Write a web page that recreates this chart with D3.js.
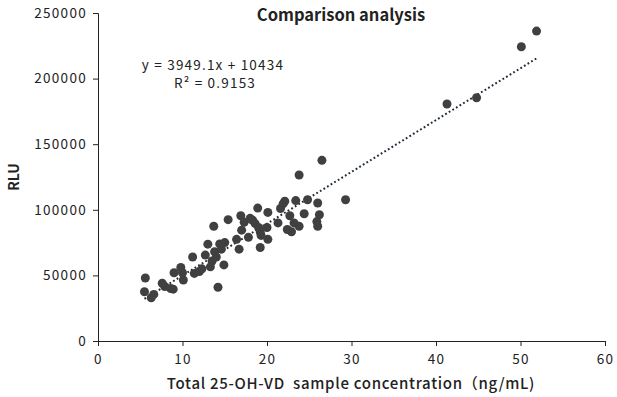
<!DOCTYPE html>
<html><head><meta charset="utf-8">
<script src="https://cdn.jsdelivr.net/npm/d3@7"></script>
<style>
body{margin:0;background:#fff;}
text{font-family:"Noto Sans CJK SC","Noto Sans",sans-serif;fill:#222;}
</style></head>
<body><svg id="c" width="617" height="397"></svg>
<script>
const xValues = [5.6,5.5,6.3,6.6,7.6,7.9,8.6,8.9,9.0,9.8,10.0,10.1,11.2,11.4,12.0,12.3,12.7,13.0,13.3,13.5,13.7,13.8,14.0,14.2,14.4,14.6,14.9,15.0,15.4,16.4,16.7,16.9,17.0,17.3,17.8,18.0,18.3,18.6,18.9,19.0,19.2,19.3,19.2,20.0,20.1,20.1,21.3,21.6,21.9,22.1,22.4,22.7,22.9,23.2,23.4,23.8,23.8,24.4,24.8,25.9,26.0,26.0,26.2,26.5,29.3,41.3,44.8,50.1,51.9];
const yValues = [48000,37500,33000,35500,44000,41500,40000,39500,52000,56000,52000,46500,64000,51500,53000,55000,65500,73800,56500,61000,87500,68000,64000,41000,74000,70000,58000,75000,92500,77500,70000,95500,84500,90500,79000,93500,92000,89500,101300,86500,83000,80500,71300,86500,98000,77500,90000,101000,104500,106500,85000,95500,83300,90000,107000,126500,87500,97000,107700,91000,87500,105200,96200,137700,107700,180600,185400,224300,236200];
const xTicks = [0,10,20,30,40,50,60];
const yTicks = [0,50000,100000,150000,200000,250000];
const slope = 3949.1, intercept = 10434;
const eqText = "y = 3949.1x + 10434";
const r2Text = "R² = 0.9153";

const svg = d3.select("#c");
const x = d3.scaleLinear().domain([0,60]).range([98,605]);
const y = d3.scaleLinear().domain([0,250000]).range([341,13]);

function styleAxis(g){
  g.select(".domain").attr("stroke","#222");
  g.selectAll("line").attr("stroke","#222");
  g.selectAll("text").attr("font-size",13.5).attr("fill","#222").attr("font-family",null)
    .attr("letter-spacing","1.3px");
}
svg.append("g").attr("transform","translate(0,341)")
  .call(d3.axisBottom(x).tickValues(xTicks).tickFormat(d3.format("d")).tickSize(5).tickPadding(8))
  .call(styleAxis);
svg.append("g").attr("transform","translate(98,0)")
  .call(d3.axisLeft(y).tickValues(yTicks).tickFormat(d3.format("d")).tickSize(5).tickPadding(6))
  .call(styleAxis);

const xMin = d3.min(xValues), xMax = d3.max(xValues);
svg.append("line")
  .attr("x1",x(xMin)).attr("y1",y(slope*xMin+intercept))
  .attr("x2",x(xMax)).attr("y2",y(slope*xMax+intercept))
  .attr("stroke","#1e2a3a").attr("stroke-width",2).attr("stroke-dasharray","1.8 2.4");

svg.append("g").selectAll("circle").data(xValues.map((v,i)=>[v,yValues[i]])).join("circle")
  .attr("cx",d=>x(d[0])).attr("cy",d=>y(d[1])).attr("r",4.5).attr("fill","#404040");

svg.append("text").attr("x",341).attr("y",21).attr("text-anchor","middle")
  .attr("font-size",16.5).attr("font-weight",600).text("Comparison analysis");

svg.append("text").attr("x",213).attr("y",69.5).attr("text-anchor","middle")
  .attr("font-family","Roboto").attr("font-size",13.5).attr("letter-spacing","1.2px").attr("fill","#1a1a1a")
  .text(eqText);
svg.append("text").attr("x",215).attr("y",88).attr("text-anchor","middle")
  .attr("font-family","Roboto").attr("font-size",13.5).attr("letter-spacing","1.2px").attr("fill","#1a1a1a")
  .text(r2Text);

svg.append("text").attr("x",351).attr("y",389).attr("text-anchor","middle")
  .attr("font-size",15).attr("font-weight",500).attr("letter-spacing","0.7px").attr("xml:space","preserve")
  .text("Total 25-OH-VD  sample concentration（ng/mL)");
svg.append("text").attr("transform","translate(19,177) rotate(-90)").attr("text-anchor","middle")
  .attr("font-size",14).attr("font-weight",700).text("RLU");
</script></body></html>
